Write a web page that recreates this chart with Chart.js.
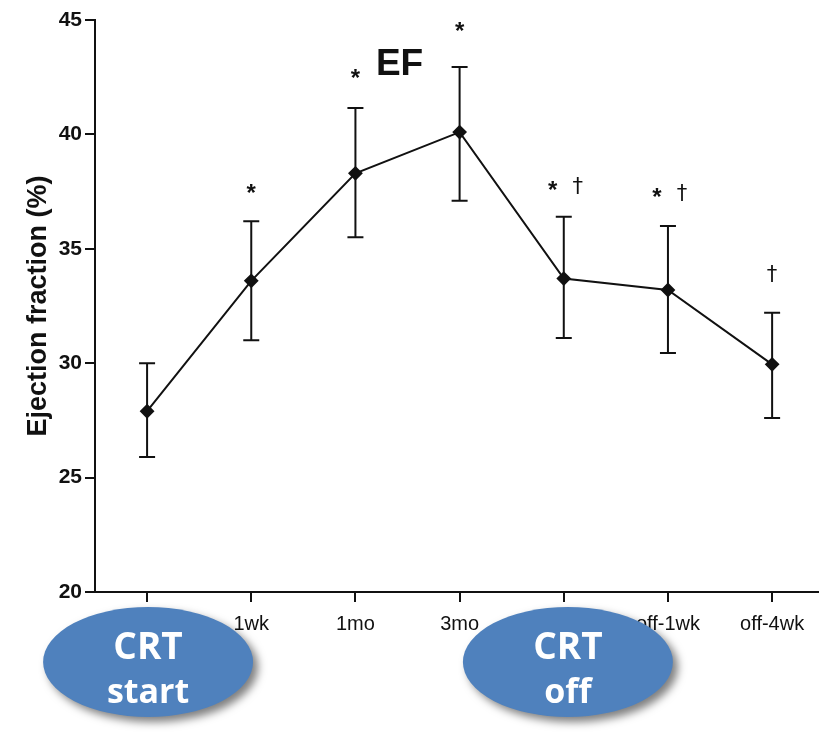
<!DOCTYPE html>
<html>
<head>
<meta charset="utf-8">
<script src="https://cdn.jsdelivr.net/npm/chart.js@4/dist/chart.umd.min.js"></script>
<style>
html,body{margin:0;padding:0;background:#fff;}
#wrap{width:819px;height:736px;position:relative;}
</style>
</head>
<body>
<div id="wrap"><canvas id="c" width="819" height="736"></canvas></div>
<script>
const categories = ["", "1wk", "1mo", "3mo", "", "off-1wk", "off-4wk"];
const efMean  = [27.9, 33.6, 38.3, 40.1, 33.7, 33.2, 29.95];
const efUpper = [30.0, 36.2, 41.15, 42.95, 36.4, 36.0, 32.2];
const efLower = [25.9, 31.0, 35.5, 37.1, 31.1, 30.45, 27.6];
const yTicks = [20, 25, 30, 35, 40, 45];
const marks = ["*", "*", "*", "* †", "* †", "†"];
const markIndex = [1, 2, 3, 4, 5, 6];
const markValue = [37.7, 42.7, 44.75, 37.8, 37.5, 33.85];
const bubbles = [{label:["CRT","start"], at:0.0}, {label:["CRT","off"], at:4.03}];

const overlay = {
  id: 'overlay',
  beforeDatasetsDraw(chart) {
    const {ctx, scales:{x, y}} = chart;
    ctx.save();
    ctx.strokeStyle = '#111';
    ctx.lineWidth = 2;
    efMean.forEach((m, i) => {
      const px = x.getPixelForValue(i);
      const t = y.getPixelForValue(efUpper[i]);
      const b = y.getPixelForValue(efLower[i]);
      ctx.beginPath();
      ctx.moveTo(px, t); ctx.lineTo(px, b);
      ctx.moveTo(px - 8, t); ctx.lineTo(px + 8, t);
      ctx.moveTo(px - 8, b); ctx.lineTo(px + 8, b);
      ctx.stroke();
    });
    ctx.restore();
  },
  afterDraw(chart) {
    const {ctx, scales:{x, y}} = chart;
    ctx.save();
    ctx.fillStyle = '#111';
    ctx.textAlign = 'center';
    ctx.textBaseline = 'middle';
    const star = (px, py) => {
      ctx.font = 'bold 24px "Liberation Sans", Arial, sans-serif';
      ctx.fillText('*', px, py + 7);
    };
    const dagger = (px, py) => {
      ctx.font = '21px "DejaVu Sans", sans-serif';
      ctx.fillText('†', px, py);
    };
    markIndex.forEach((idx, k) => {
      const px = x.getPixelForValue(idx);
      const py = y.getPixelForValue(markValue[k]);
      const s = marks[k];
      if (s === '*') star(px, py);
      else if (s === '†') dagger(px, py);
      else { star(px - 11, py); dagger(px + 14, py + 3); }
    });
    ctx.font = 'bold 37px "Liberation Sans", Arial, sans-serif';
    ctx.textAlign = 'center';
    ctx.textBaseline = 'alphabetic';
    ctx.fillText('EF', (x.getPixelForValue(2) + x.getPixelForValue(3)) / 2 - 8, 75);
    bubbles.forEach(bb => {
      const cx = x.getPixelForValue(bb.at) + 1;
      const cy = 662;
      ctx.save();
      ctx.shadowColor = 'rgba(0,0,0,0.5)';
      ctx.shadowBlur = 9;
      ctx.shadowOffsetX = 5;
      ctx.shadowOffsetY = 5;
      ctx.fillStyle = '#4f81bd';
      ctx.beginPath();
      ctx.ellipse(cx, cy, 105, 55, 0, 0, Math.PI * 2);
      ctx.fill();
      ctx.restore();
      ctx.fillStyle = '#ffffff';
      ctx.textAlign = 'center';
      ctx.textBaseline = 'alphabetic';
      ctx.font = 'bold 37px "Open Sans", "Noto Sans", sans-serif';
      ctx.fillText(bb.label[0], cx, cy - 3);
      ctx.font = 'bold 34px "Open Sans", "Noto Sans", sans-serif';
      ctx.fillText(bb.label[1], cx, cy + 41);
    });
    ctx.restore();
  }
};

new Chart(document.getElementById('c'), {
  type: 'line',
  data: {
    datasets: [{
      data: efMean.map((v, i) => ({x: i, y: v})),
      borderColor: '#111',
      borderWidth: 2,
      pointStyle: 'rectRot',
      pointRadius: 6,
      pointBackgroundColor: '#111',
      pointBorderColor: '#111',
      tension: 0,
      fill: false
    }]
  },
  options: {
    responsive: false,
    animation: false,
    layout: {autoPadding: false, padding: {top: 20, right: 0, left: 0, bottom: 0}},
    plugins: {legend: {display: false}, tooltip: {enabled: false}},
    scales: {
      x: {
        type: 'linear',
        min: -0.5,
        max: 6.45,
        afterBuildTicks: s => { s.ticks = categories.map((c, i) => ({value: i})); },
        afterFit: s => { s.height = 144; s.paddingLeft = 0; s.paddingRight = 0; },
        grid: {drawOnChartArea: false, drawTicks: true, tickLength: 10, color: '#111', lineWidth: 2},
        border: {display: true, color: '#111', width: 2},
        ticks: {
          color: '#111',
          padding: 10,
          maxRotation: 0,
          autoSkip: false,
          font: {family: '"Liberation Sans", Arial, sans-serif', size: 20},
          callback: (v) => categories[v] !== undefined ? categories[v] : ''
        }
      },
      y: {
        min: 20,
        max: 45,
        afterBuildTicks: s => { s.ticks = yTicks.map(v => ({value: v})); },
        afterFit: s => { s.width = 95; s.paddingTop = 0; s.paddingBottom = 0; },
        grid: {drawOnChartArea: false, drawTicks: true, tickLength: 10, color: '#111', lineWidth: 2},
        border: {display: true, color: '#111', width: 2},
        ticks: {
          color: '#111',
          padding: 3,
          font: {family: '"Liberation Sans", Arial, sans-serif', size: 21, weight: 'bold'}
        },
        title: {
          display: true,
          text: 'Ejection fraction (%)',
          color: '#111',
          padding: {top: 22, bottom: 0},
          font: {family: '"Liberation Sans", Arial, sans-serif', size: 27, weight: 'bold'}
        }
      }
    }
  },
  plugins: [overlay]
});
</script>
</body>
</html>
